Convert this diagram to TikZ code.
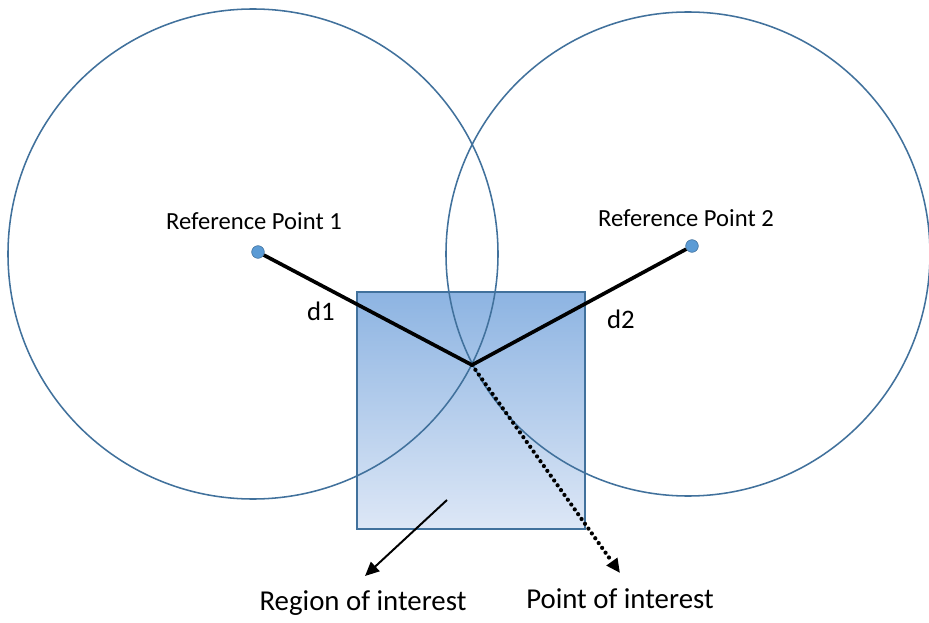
\documentclass[tikz,border=0pt]{standalone}
\usepackage{fontspec}
\setmainfont{Carlito}
\usetikzlibrary{arrows.meta, positioning}

\definecolor{ringblue}{HTML}{41719C}
\definecolor{dotblue}{HTML}{5B9BD5}
\definecolor{boxtop}{HTML}{8DB4E2}
\definecolor{boxbottom}{HTML}{DDE7F6}

\tikzset{
    ring/.style={draw=ringblue, line width=1.1pt},
    refdot/.style={circle, fill=dotblue, draw=ringblue, line width=0.4pt, inner sep=0pt, minimum size=9pt},
    distline/.style={line width=2.6pt},
    lbl/.style={font=\fontsize{17.5}{20}\selectfont},
    dlbl/.style={font=\fontsize{19}{22}\selectfont},
    biglbl/.style={font=\fontsize{20.5}{24}\selectfont}
}

\begin{document}
\begin{tikzpicture}[x=0.025cm, y=-0.025cm]
    \useasboundingbox (0,0) rectangle (929,623);

    % region of interest
    \shade[top color=boxtop, bottom color=boxbottom, draw=ringblue, line width=1.1pt]
        (357,292) rectangle (585,529);
    \coordinate (roi) at (447,500);

    % the two circles
    \draw[ring] (253,254) circle (245);
    \draw[ring] (688,254) circle (242);

    \node[refdot] (rp1) at (258,252) {};
    \node[refdot] (rp2) at (692,246) {};
    \coordinate (poi) at (472,365);

    \node[lbl] (rp1lbl) at (254,221) {Reference Point 1};
    \node[lbl] (rp2lbl) at (686,218) {Reference Point 2};
    \node[dlbl] (d1) at (321,311) {d1};
    \node[dlbl] (d2) at (621,319) {d2};

    \draw[distline] (rp1) -- (poi);
    \draw[distline] (rp2) -- (poi);

    \node[biglbl] (roilbl) at (363,603) {Region of interest};
    \node[biglbl] (poilbl) at (620,599) {Point of interest};
    \coordinate (roitip) at (365,576);
    \coordinate (poitip) at (620,573);

    \draw[line width=1.4pt, -{Triangle[length=10pt, width=9pt]}] (roi) -- (roitip);
    \draw[line width=3pt, line cap=round, dash pattern=on 0pt off 4.2pt,
        -{Triangle[length=10pt, width=9pt]}] (poi) -- (poitip);
\end{tikzpicture}
\end{document}
